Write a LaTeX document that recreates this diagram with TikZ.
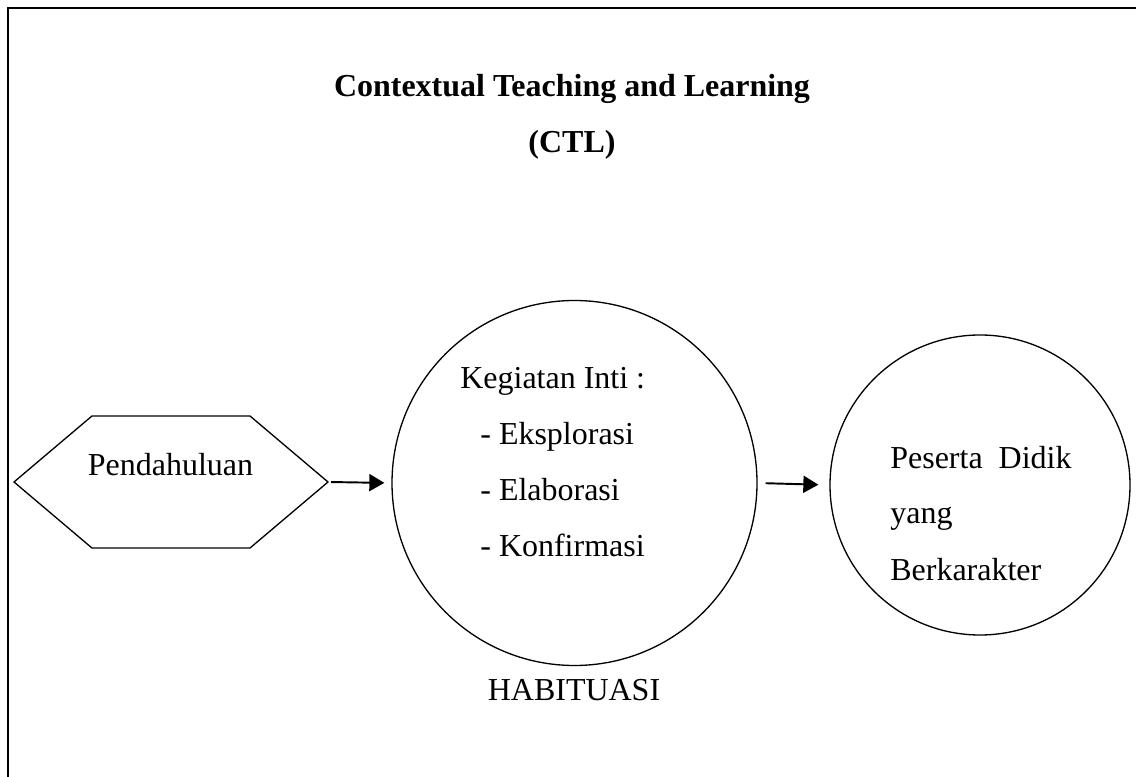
\documentclass[tikz,border=0pt]{standalone}
\usepackage{fontspec}
\setmainfont{Liberation Serif}
\usetikzlibrary{shapes.symbols,arrows.meta}
\begin{document}
\begin{tikzpicture}[font=\fontsize{18.2}{22}\selectfont,
    box/.style={draw, line width=0.75pt, inner sep=0pt},
    txt/.style={anchor=base west, inner sep=0pt},
    arr/.style={-{Triangle[length=0.3cm,width=0.34cm]}, line width=1.1pt}]
  \useasboundingbox (0,0) rectangle (22.72,-15.54);
  \draw [line width=1.15pt] (0.16,-15.54) -- (0.16,-0.16) -- (22.72,-0.16);
  \node [anchor=base, inner sep=0pt, font=\fontsize{18.2}{22}\selectfont\bfseries] (title) at (11.44,-1.94) {Contextual Teaching and Learning};
  \node [anchor=base, inner sep=0pt, font=\fontsize{18.2}{22}\selectfont\bfseries] (ctl) at (11.44,-3.06) {(CTL)};
  \node [box, signal, signal to=west and east, signal pointer angle=80.5, minimum width=6.28cm, minimum height=2.64cm] (pend) at (3.42,-9.64) {};
  \node [anchor=base, inner sep=0pt] (pendtxt) at (3.41,-9.50) {Pendahuluan};
  \node [box, circle, minimum size=7.3cm] (inti) at (11.49,-9.66) {};
  \node [txt] (keg) at (9.20,-7.77) {Kegiatan Inti :};
  \node [txt] (eks) at (9.60,-8.90) {- Eksplorasi};
  \node [txt] (ela) at (9.60,-10.01) {- Elaborasi};
  \node [txt] (kon) at (9.60,-11.13) {- Konfirmasi};
  \node [box, circle, minimum size=6.0cm] (didik) at (19.6,-9.70) {};
  \node [txt] (pes) at (17.80,-9.38) {Peserta\ \ Didik};
  \node [txt] (yang) at (17.80,-10.48) {yang};
  \node [txt] (ber) at (17.80,-11.60) {Berkarakter};
  \node [anchor=base, inner sep=0pt] (habit) at (11.48,-14.00) {HABITUASI};
  \draw [arr, shorten <=0.04cm, shorten >=0.14cm] (pend.east) -- (inti.west);
  \draw [arr, shorten <=0.16cm, shorten >=0.22cm] (inti.east) -- (didik.west);
\end{tikzpicture}
\end{document}
